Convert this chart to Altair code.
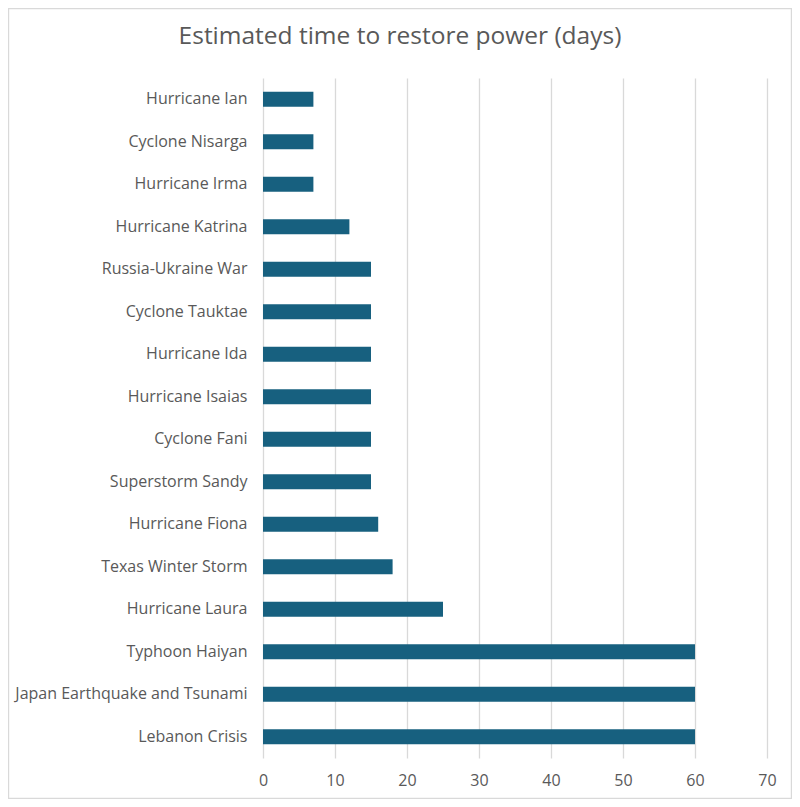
import altair as alt
import pandas as pd

events = [
    "Hurricane Ian", "Cyclone Nisarga", "Hurricane Irma", "Hurricane Katrina",
    "Russia-Ukraine War", "Cyclone Tauktae", "Hurricane Ida", "Hurricane Isaias",
    "Cyclone Fani", "Superstorm Sandy", "Hurricane Fiona", "Texas Winter Storm",
    "Hurricane Laura", "Typhoon Haiyan", "Japan Earthquake and Tsunami", "Lebanon Crisis",
]
days = [7, 7, 7, 12, 15, 15, 15, 15, 15, 15, 16, 18, 25, 60, 60, 60]
x_ticks = [0, 10, 20, 30, 40, 50, 60, 70]

df = pd.DataFrame({"event": events, "days": days})

FONT = "Open Sans"
GRAY = "#595959"
W, H = 504, 680
PAD = {"left": 255, "top": 70, "right": 25, "bottom": 41}

bars = alt.Chart(df).mark_bar(color="#17607f").encode(
    y=alt.Y("event:N", sort=events, title=None,
            scale=alt.Scale(paddingInner=0.65, paddingOuter=0.325),
            axis=alt.Axis(domain=False, ticks=False, grid=False, labelPadding=16,
                          labelLimit=400, labelFontSize=16, labelColor=GRAY, labelFont=FONT)),
    x=alt.X("days:Q", title=None,
            scale=alt.Scale(domain=[0, 70], nice=False),
            axis=alt.Axis(values=x_ticks, domain=False, ticks=False, grid=True,
                          gridColor="#d9d9d9", gridWidth=1.3, labelPadding=14,
                          labelFlush=False, labelOverlap=False,
                          labelFontSize=16, labelColor=GRAY, labelFont=FONT)),
)

border = alt.Chart(alt.Data(values=[{}])).mark_rect(
    fill="transparent", stroke="#d9d9d9", strokeWidth=1.2
).encode(
    x=alt.value(-PAD["left"] + 0.6), x2=alt.value(W + PAD["right"] - 0.6),
    y=alt.value(-PAD["top"] + 0.6), y2=alt.value(H + PAD["bottom"] - 0.6),
)

chart = alt.layer(border, bars).properties(
    width=W, height=H,
    padding=PAD,
    background="white",
    autosize=alt.AutoSizeParams(type="none"),
    title=alt.TitleParams(
        "Estimated time to restore power (days)", fontSize=24.5, fontWeight="normal",
        color=GRAY, font=FONT, anchor="middle", frame="group", dx=-115, offset=-41,
    ),
).configure_view(stroke="transparent", strokeWidth=0)

chart.save("out.html", embed_options={"renderer": "svg", "actions": False})
